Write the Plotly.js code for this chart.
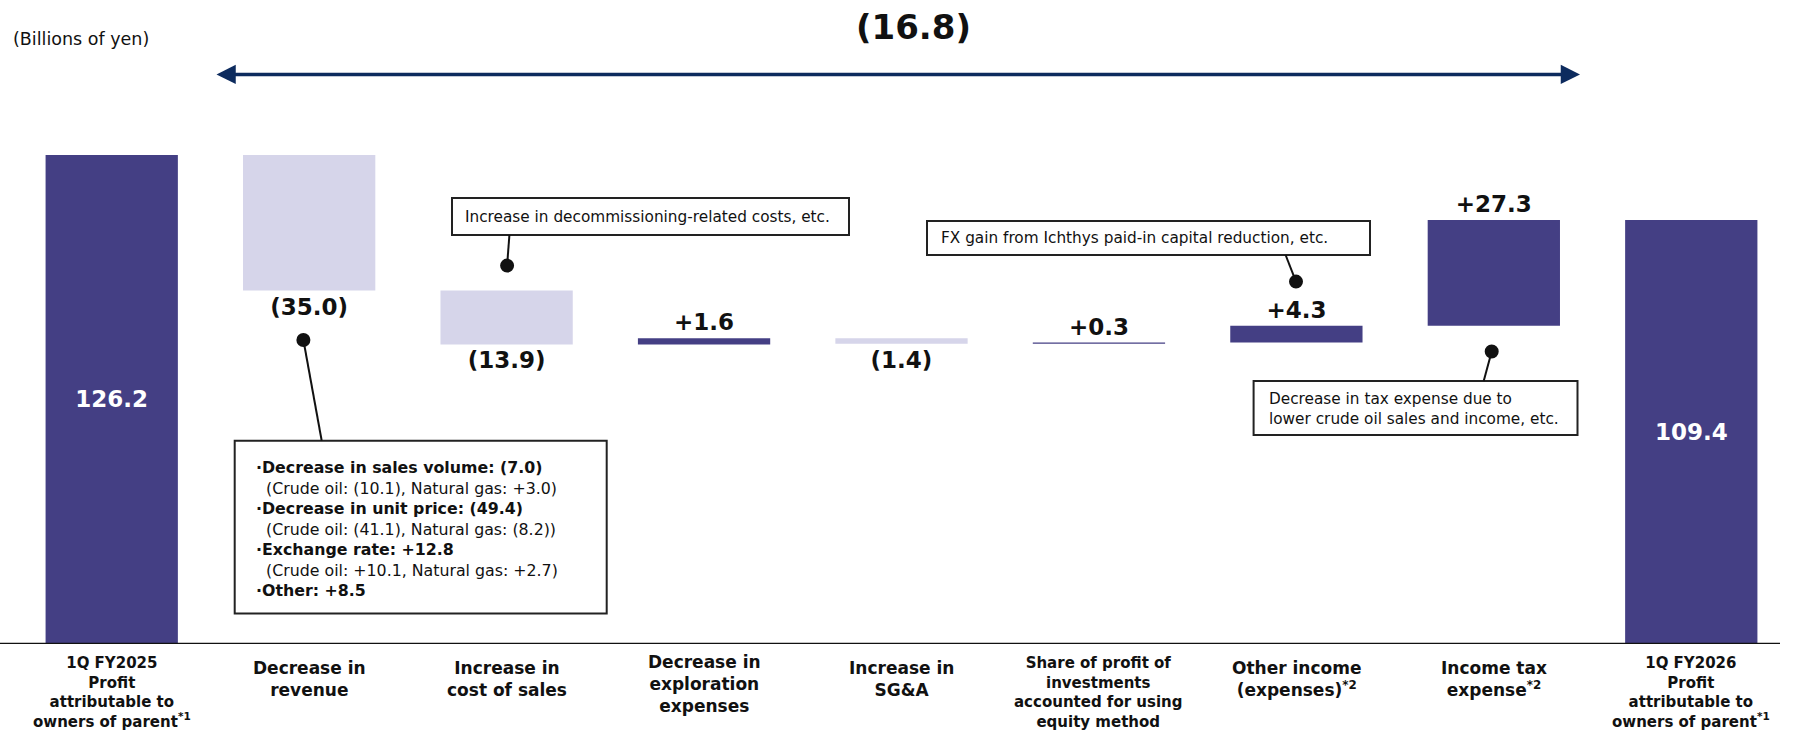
<!DOCTYPE html>
<html><head><meta charset="utf-8">
<script src="https://cdn.plot.ly/plotly-3.0.1.min.js"></script>
<style>html,body{margin:0;padding:0;background:#fff}#chart{width:1795px;height:731px}</style>
</head><body><div id="chart"></div>
<script>
// ---- data ----
const categories = [
  '1Q FY2025<br>Profit<br>attributable to<br>owners of parent<sup>*1</sup>',
  'Decrease in<br>revenue',
  'Increase in<br>cost of sales',
  'Decrease in<br>exploration<br>expenses',
  'Increase in<br>SG&A',
  'Share of profit of<br>investments<br>accounted for using<br>equity method',
  'Other income<br>(expenses)<sup>*2</sup>',
  'Income tax<br>expense<sup>*2</sup>',
  '1Q FY2026<br>Profit<br>attributable to<br>owners of parent<sup>*1</sup>'
];
const measures = ['absolute','relative','relative','relative','relative','relative','relative','relative','total'];
const changes = [126.2, -35.0, -13.9, 1.6, -1.4, 0.3, 4.3, 27.3, 0];
const unitNote = '(Billions of yen)';
const noteRevenue = [
  ['b', 'Decrease in sales volume: (7.0)'],
  ['n', '(Crude oil: (10.1), Natural gas: +3.0)'],
  ['b', 'Decrease in unit price: (49.4)'],
  ['n', '(Crude oil: (41.1), Natural gas: (8.2))'],
  ['b', 'Exchange rate: +12.8'],
  ['n', '(Crude oil: +10.1, Natural gas: +2.7)'],
  ['b', 'Other: +8.5']
];
const noteCost = 'Increase in decommissioning-related costs, etc.';
const noteOther = 'FX gain from Ichthys paid-in capital reduction, etc.';
const noteTax = 'Decrease in tax expense due to<br>lower crude oil sales and income, etc.';

// ---- derived labels ----
let run = 0;
const labels = changes.map((v, i) => {
  if (measures[i] === 'absolute') { run = v; return v.toFixed(1); }
  if (measures[i] === 'total') { return run.toFixed(1); }
  run += v;
  return v >= 0 ? '+' + v.toFixed(1) : '(' + Math.abs(v).toFixed(1) + ')';
});
const startVal = changes[0];
const endVal = run;
const diff = endVal - startVal;
const diffLabel = diff >= 0 ? '+' + diff.toFixed(1) : '(' + Math.abs(diff).toFixed(1) + ')';
const textPos = measures.map(m => (m === 'relative' ? 'outside' : 'inside'));

// ---- layout geometry ----
const W = 1795, H = 731, ML = 13, MR = 5, MT = 100, MB = 87;
const PXPERUNIT = 3.875;
const PLOTH = H - MT - MB;
const YMAX = PLOTH / PXPERUNIT;
const CATW = (W - ML - MR) / categories.length;
const X = px => (px - ML) / CATW - 0.5;
const Y = py => (H - MB - py) / PXPERUNIT;
const PY = py => (H - MB - py) / PLOTH;

const DARK = '#443f84', LIGHT = '#d6d5ea', INK = '#111111', NAVY = '#0d2b5e';
const FONT = 'DejaVu Sans, Verdana, sans-serif';

const trace = {
  type: 'waterfall',
  x: categories.map((c, i) => i),
  measure: measures,
  y: changes,
  text: labels,
  textposition: textPos,
  insidetextanchor: 'middle',
  textinfo: 'text',
  insidetextfont: {family: FONT, size: 23, color: '#ffffff', weight: 'bold'},
  outsidetextfont: {family: FONT, size: 23, color: INK, weight: 'bold'},
  constraintext: 'none',
  cliponaxis: false,
  width: 0.67,
  connector: {visible: false},
  increasing: {marker: {color: DARK}},
  decreasing: {marker: {color: LIGHT}},
  totals: {marker: {color: DARK}},
  hoverinfo: 'skip'
};

const shapes = [];
const annotations = [];

// axis base line
shapes.push({type: 'line', xref: 'paper', yref: 'y', x0: -ML / (W - ML - MR), x1: (1780 - ML) / (W - ML - MR), y0: 0, y1: 0,
  line: {color: '#111', width: 2.5}, layer: 'above'});

// category labels under the axis
categories.forEach((c, i) => {
  const lines = c.split('<br>').length;
  const size = lines >= 4 ? 15 : 17;
  const mid = lines >= 4 ? 692 : (lines === 3 ? 683.5 : 678.5);
  annotations.push({xref: 'x', yref: 'paper', x: i, y: PY(mid), xanchor: 'center', yanchor: 'middle',
    showarrow: false, align: 'center', text: c, font: {family: FONT, size: size, color: INK, weight: 'bold'}});
});

function callout(rect, textLeft, textMid, lineFrom, dot, text, fontSize) {
  shapes.push({type: 'rect', xref: 'x', yref: 'y', x0: X(rect[0]), x1: X(rect[2]), y0: Y(rect[1]), y1: Y(rect[3]),
    line: {color: '#222', width: 2}, fillcolor: '#ffffff', layer: 'above'});
  shapes.push({type: 'line', xref: 'x', yref: 'y', x0: X(lineFrom[0]), y0: Y(lineFrom[1]), x1: X(dot[0]), y1: Y(dot[1]),
    line: {color: '#111', width: 2}, layer: 'above'});
  shapes.push({type: 'circle', xref: 'x', yref: 'y', xsizemode: 'pixel', ysizemode: 'pixel',
    xanchor: X(dot[0]), yanchor: Y(dot[1]), x0: -7, x1: 7, y0: -7, y1: 7,
    fillcolor: '#111', line: {color: '#111', width: 0}, layer: 'above'});
  annotations.push({xref: 'x', yref: 'y', x: X(textLeft), y: Y(textMid), xanchor: 'left', yanchor: 'middle',
    align: 'left', showarrow: false, text: text, font: {family: FONT, size: fontSize, color: INK}});
}

const revText = noteRevenue.map(([k, t]) => k === 'b' ? '<b>\u00b7' + t + '</b>' : '\u00a0\u00a0' + t).join('<br>');
callout([234.7, 440.7, 606.7, 613.5], 254, 529, [321.7, 440.7], [303.4, 340], revText, 15.8);
callout([452, 198, 849, 235], 463, 216.5, [509.4, 235], [507.1, 265.6], noteCost, 15.3);
callout([927, 221, 1370, 255], 939, 238, [1285.6, 255], [1296, 281.6], noteOther, 15.3);
callout([1253.6, 381, 1577.5, 435], 1267, 409, [1483.7, 381], [1491.7, 351.5], noteTax, 15.3);

// unit note
annotations.push({xref: 'paper', yref: 'paper', x: (11 - ML) / (W - ML - MR), y: PY(39),
  xanchor: 'left', yanchor: 'middle', showarrow: false, text: unitNote, font: {family: FONT, size: 17.5, color: INK}});

// total change arrow + label
annotations.push({xref: 'x', yref: 'paper', x: X(1580), y: PY(74.4),
  axref: 'pixel', ayref: 'pixel', ax: -(1580 - 215), ay: 0, text: '', showarrow: true,
  arrowside: 'end+start', arrowhead: 2, arrowsize: 1.1, arrowwidth: 3.5, arrowcolor: NAVY});
annotations.push({xref: 'x', yref: 'paper', x: X(913), y: PY(27.5),
  xanchor: 'center', yanchor: 'middle', showarrow: false, text: '<b>' + diffLabel + '</b>',
  font: {family: FONT, size: 34, color: INK}});

const layout = {
  width: W, height: H,
  margin: {l: ML, r: MR, t: MT, b: MB, pad: 0},
  paper_bgcolor: '#ffffff', plot_bgcolor: '#ffffff',
  showlegend: false,
  xaxis: {
    type: 'linear', range: [-0.5, categories.length - 0.5],
    showticklabels: false, showgrid: false, zeroline: false, showline: false, ticks: '',
    fixedrange: true
  },
  yaxis: {range: [0, YMAX], visible: false, showgrid: false, zeroline: false, fixedrange: true},
  shapes: shapes,
  annotations: annotations
};

Plotly.newPlot('chart', [trace], layout, {displayModeBar: false, staticPlot: true});
</script>
</body></html>
